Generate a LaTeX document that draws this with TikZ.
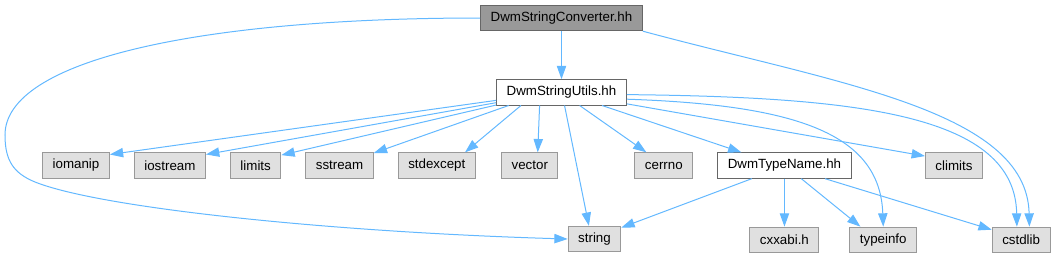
\documentclass[tikz,border=0pt]{standalone}
\usepackage{fontspec}
\setmainfont{Liberation Sans}
\usetikzlibrary{positioning, arrows.meta}
\definecolor{edgeBlue}{HTML}{63B8FF}
\definecolor{boxGray}{HTML}{E0E0E0}
\definecolor{borderGray}{HTML}{999999}
\definecolor{borderDark}{HTML}{666666}
\tikzset{
	header/.style={
		font=\fontsize{10pt}{12pt}\selectfont,
		minimum height=19pt,
		inner xsep=7.5pt,
		inner ysep=0pt,
		line width=0.75pt
	},
	rootFile/.style={
		header,
		draw=borderDark,
		fill=borderGray
	},
	localFile/.style={
		header,
		draw=borderDark,
		fill=white
	},
	systemFile/.style={
		header,
		draw=borderGray,
		fill=boxGray
	},
	includeEdge/.style={
		draw=edgeBlue,
		line width=0.75pt,
		-{Triangle[length=10pt, width=7pt]}
	},
}

\begin{document}
\begin{tikzpicture}[x=0.75pt, y=-0.75pt]
	\useasboundingbox (0,0) rectangle (1054,257);

	% documented file
	\node [rootFile] at (561.5,18) (stringConverter) {DwmStringConverter.hh};
	\node [localFile, below=36pt of stringConverter] (stringUtils) {DwmStringUtils.hh};

	% headers included by DwmStringUtils.hh
	\node [systemFile] at (76,165.5) (iomanip) {iomanip};
	\node [systemFile, right=18pt of iomanip] (iostream) {iostream};
	\node [systemFile, right=18pt of iostream] (limits) {limits};
	\node [systemFile, right=18pt of limits] (sstream) {sstream};
	\node [systemFile, right=18pt of sstream] (stdexcept) {stdexcept};
	\node [systemFile, right=19pt of stdexcept] (vector) {vector};
	\node [systemFile, right=57pt of vector] (cerrno) {cerrno};
	\node [localFile, right=18pt of cerrno] (typeName) {DwmTypeName.hh};
	\node [systemFile, right=55pt of typeName] (climits) {climits};

	% bottom row
	\node [systemFile, below=36pt of typeName] (cxxabi) {cxxabi.h};
	\node [systemFile, right=22.5pt of cxxabi] (typeinfo) {typeinfo};
	\node [systemFile, right=56pt of typeinfo] (cstdlib) {cstdlib};
	\node [systemFile] at (594.5,239) (string) {string};

	% DwmStringConverter.hh includes
	\draw [includeEdge] (stringConverter) -- (stringUtils);
	\draw [includeEdge] (stringConverter.west) .. controls (200,18) and (5,60) .. (5,135)
		.. controls (5,160) and (13,173) .. (35,182)
		.. controls (100,208) and (330,232) .. (string.west);
	\draw [includeEdge] (stringConverter.south east) .. controls (835,83) and (1027,110) .. (cstdlib.58);

	% DwmStringUtils.hh includes
	\draw [includeEdge] (stringUtils.187) -- (iomanip.18);
	\draw [includeEdge] (stringUtils.189) -- (iostream.17);
	\draw [includeEdge] (stringUtils.191) -- (limits.22);
	\draw [includeEdge] (stringUtils.194) -- (sstream.20);
	\draw [includeEdge] (stringUtils.198) -- (stdexcept.25);
	\draw [includeEdge] (stringUtils.211) -- (vector.59);
	\draw [includeEdge] (stringUtils.283) -- (string.113);
	\draw [includeEdge] (stringUtils.324) -- (cerrno.143);
	\draw [includeEdge] (stringUtils.342) -- (typeName.163);
	\draw [includeEdge] (stringUtils.350) -- (climits.162);
	\draw [includeEdge] (stringUtils.354) .. controls (800,105) and (880,135) .. (typeinfo.north);
	\draw [includeEdge] (stringUtils.358) .. controls (860,97) and (1015,115) .. (cstdlib.108);

	% DwmTypeName.hh includes
	\draw [includeEdge] (typeName.202) -- (string.23);
	\draw [includeEdge] (typeName) -- (cxxabi);
	\draw [includeEdge] (typeName.322) -- (typeinfo.150);
	\draw [includeEdge] (typeName.342) -- (cstdlib.161);
\end{tikzpicture}
\end{document}
